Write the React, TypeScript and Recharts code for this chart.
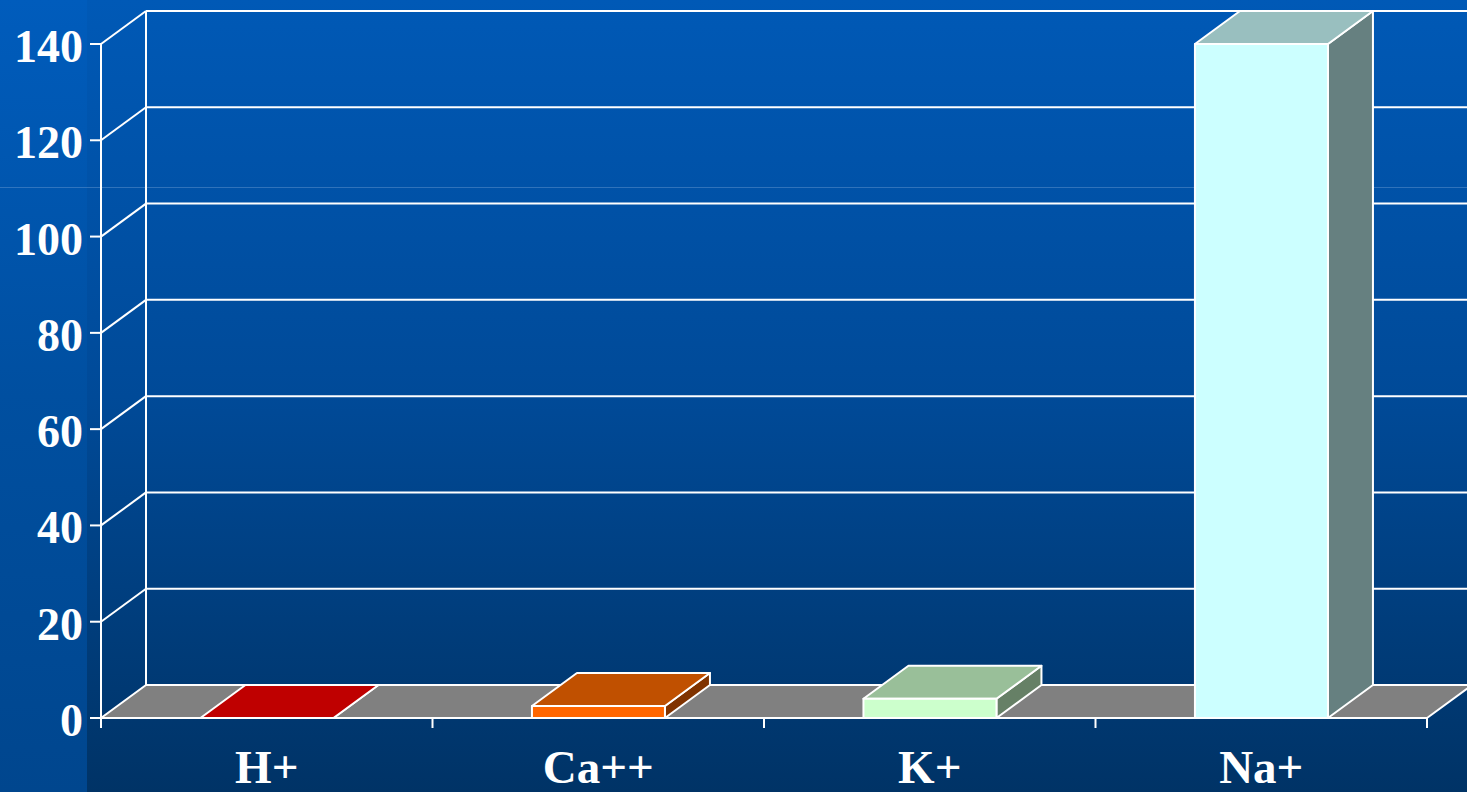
import React from 'react';
import { BarChart, Bar, XAxis, YAxis, CartesianGrid } from 'recharts';

// Ion concentrations (mmol/L)
const ions = ['H+', 'Ca++', 'K+', 'Na+'];
const concentrations = [0.00004, 2.5, 4, 140];
const yTicks = [0, 20, 40, 60, 80, 100, 120, 140];

// Face colours of each 3D box: front, top (shaded), side (darker)
const frontColors = ['#FF0000', '#FF6600', '#CCFFCC', '#CCFFFF'];
const topColors = ['#BF0000', '#C05000', '#99BF99', '#99BFBF'];
const sideColors = ['#800000', '#803300', '#668066', '#668080'];

const data = ions.map((name, i) => ({ name, value: concentrations[i], idx: i }));

// Depth of the 3D projection
const DX = 45;
const DY = 33;
const WHITE = '#FFFFFF';
const FONT = '"Liberation Serif", "Times New Roman", Times, serif';

const Box3D = (props: any) => {
  const { x, y, width, height, index } = props;
  const i = props.payload?.idx ?? index;
  const bottom = y + height;
  const front = `M${x},${y} H${x + width} V${bottom} H${x} Z`;
  const top = `M${x},${y} L${x + DX},${y - DY} H${x + width + DX} L${x + width},${y} Z`;
  const side = `M${x + width},${y} L${x + width + DX},${y - DY} V${bottom - DY} L${x + width},${bottom} Z`;
  return (
    <g stroke={WHITE} strokeWidth={2} strokeLinejoin="round">
      <path d={side} fill={sideColors[i]} />
      <path d={top} fill={topColors[i]} />
      <path d={front} fill={frontColors[i]} />
    </g>
  );
};

// Back wall + side wall lines; the zero line becomes the grey floor
const wallLine = (props: any) => {
  const { x1, y1, x2, y2, index } = props;
  if (index === 0) {
    return (
      <path
        key={props.key}
        d={`M${x1},${y1} L${x1 + DX},${y1 - DY} H${x2 + DX} L${x2},${y2} Z`}
        fill="#808080"
        stroke={WHITE}
        strokeWidth={2}
        strokeLinejoin="round"
      />
    );
  }
  return (
    <g key={props.key} stroke={WHITE} strokeWidth={2}>
      <line x1={x1} y1={y1} x2={x1 + DX} y2={y1 - DY} />
      <line x1={x1 + DX} y1={y1 - DY} x2={x2 + DX} y2={y2 - DY} />
    </g>
  );
};

const backEdge = (props: any) => {
  const { x1, y1, x2, y2 } = props;
  return (
    <line
      key={props.key}
      x1={x1 + DX}
      y1={y1 - DY}
      x2={x2 + DX}
      y2={y2 - DY}
      stroke={WHITE}
      strokeWidth={2}
    />
  );
};

const YTick = (props: any) => {
  const { x, y, payload } = props;
  return (
    <text x={x} y={y} dy={18} textAnchor="end" fill={WHITE} fontSize={46} fontWeight="bold" fontFamily={FONT}>
      {payload.value}
    </text>
  );
};

const XTick = (props: any) => {
  const { x, y, payload, index, width, visibleTicksCount } = props;
  const band = width / visibleTicksCount;
  const axisY = y - 10;
  return (
    <g>
      <line x1={x - band / 2} y1={axisY} x2={x - band / 2} y2={axisY + 10} stroke={WHITE} strokeWidth={2} />
      {index === visibleTicksCount - 1 && (
        <line x1={x + band / 2} y1={axisY} x2={x + band / 2} y2={axisY + 10} stroke={WHITE} strokeWidth={2} />
      )}
      <text x={x} y={y} dy={55} textAnchor="middle" fill={WHITE} fontSize={47} fontWeight="bold" fontFamily={FONT}>
        {payload.value}
      </text>
    </g>
  );
};

export default function App() {
  return (
    <div
      style={{
        position: 'absolute',
        left: 0,
        top: 0,
        width: 1467,
        height: 792,
        overflow: 'hidden',
        background: 'linear-gradient(to bottom, #0059b6 0%, #004a98 50%, #003366 100%)',
      }}
    >
      <div
        style={{
          position: 'absolute',
          left: 0,
          top: 0,
          width: 87,
          height: 792,
          background: 'linear-gradient(to bottom, #005cbc 0%, #004fa0 50%, #00468e 100%)',
        }}
      />
      <div
        style={{
          position: 'absolute',
          left: 0,
          top: 187,
          width: 1467,
          height: 1,
          background: 'rgba(120,165,215,0.4)',
        }}
      />
      <div style={{ position: 'absolute', left: 0, top: 0 }}>
        <BarChart
          width={1467}
          height={792}
          data={data}
          margin={{ top: 44, right: 40, bottom: 14, left: 11 }}
          barCategoryGap="30%"
        >
          <CartesianGrid
            horizontal={wallLine}
            vertical={backEdge}
            verticalCoordinatesGenerator={({ offset }: any) => [offset.left]}
          />
          <XAxis
            dataKey="name"
            interval={0}
            height={60}
            tickSize={10}
            tickMargin={0}
            tickLine={false}
            axisLine={{ stroke: WHITE, strokeWidth: 2 }}
            tick={XTick}
          />
          <YAxis
            width={90}
            domain={[0, 140]}
            ticks={yTicks}
            interval={0}
            tickSize={11}
            tickMargin={7}
            tickLine={{ stroke: WHITE, strokeWidth: 2 }}
            axisLine={{ stroke: WHITE, strokeWidth: 2 }}
            tick={YTick}
          />
          <Bar dataKey="value" shape={Box3D} isAnimationActive={false} />
        </BarChart>
      </div>
    </div>
  );
}
